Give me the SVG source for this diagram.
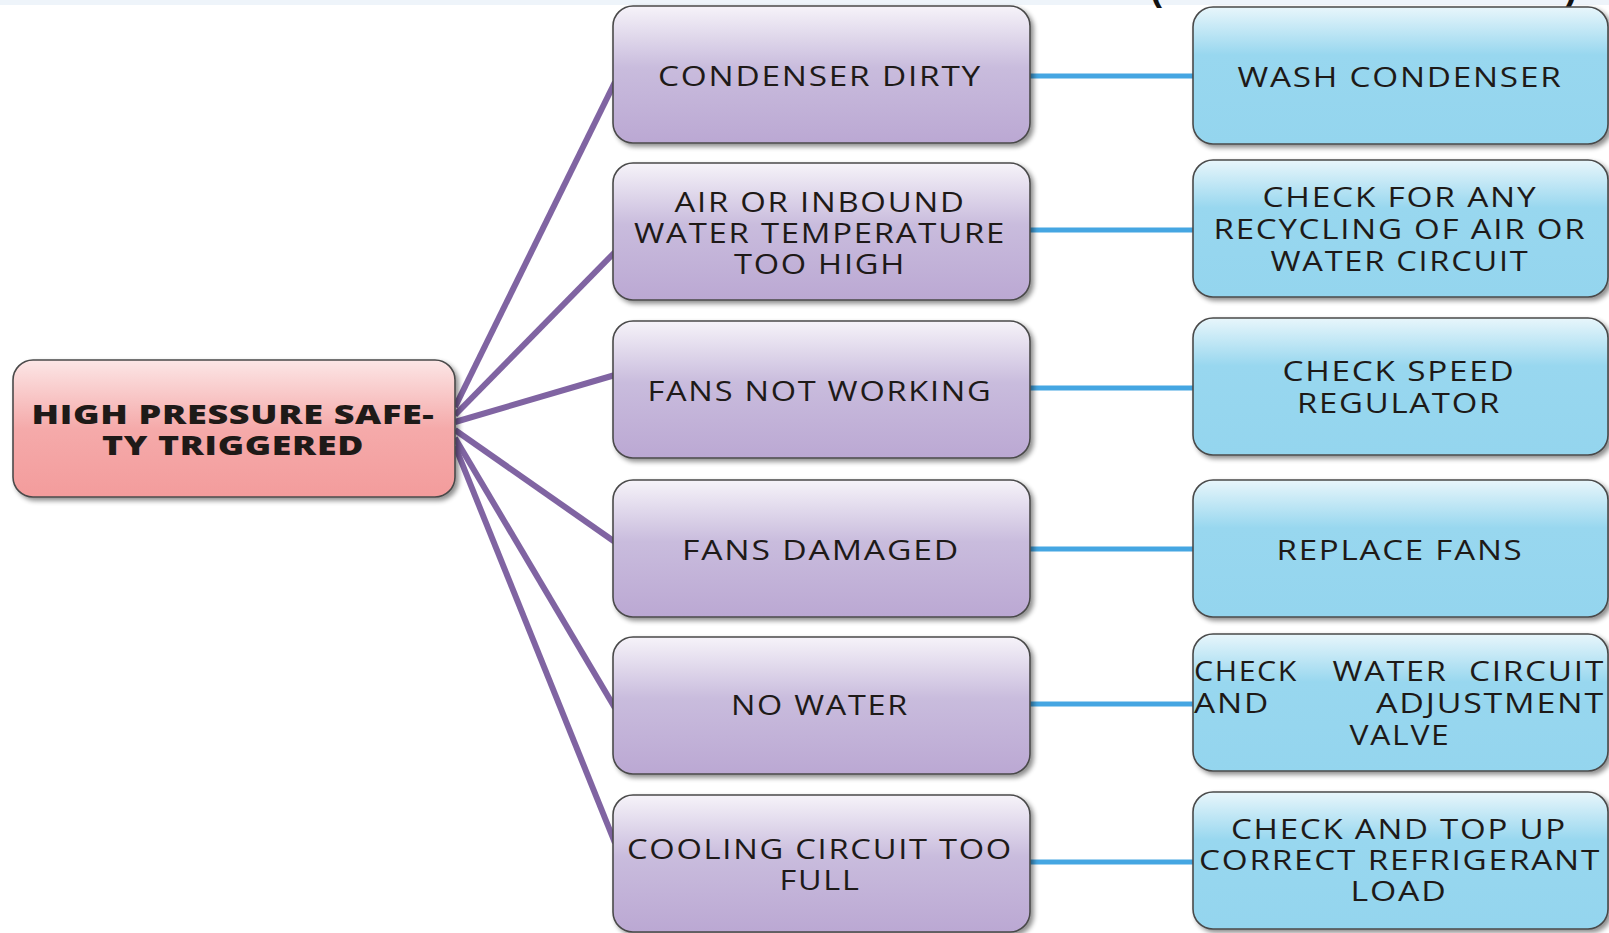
<svg xmlns="http://www.w3.org/2000/svg" width="1609" height="933" viewBox="0 0 1609 933">
  <defs>
    <linearGradient id="gCause" x1="0" y1="0" x2="0" y2="1">
      <stop offset="0" stop-color="#f6f3f9"/>
      <stop offset="0.45" stop-color="#c9bcdd"/>
      <stop offset="1" stop-color="#bba8d3"/>
    </linearGradient>
    <linearGradient id="gFix" x1="0" y1="0" x2="0" y2="1">
      <stop offset="0" stop-color="#e8f6fb"/>
      <stop offset="0.35" stop-color="#98d7ef"/>
      <stop offset="1" stop-color="#94d5ee"/>
    </linearGradient>
    <linearGradient id="gRoot" x1="0" y1="0" x2="0" y2="1">
      <stop offset="0" stop-color="#fce6e6"/>
      <stop offset="0.5" stop-color="#f5aaaa"/>
      <stop offset="1" stop-color="#f39c9c"/>
    </linearGradient>
    <filter id="shadow" x="-5%" y="-5%" width="112%" height="115%">
      <feGaussianBlur in="SourceAlpha" stdDeviation="2.5"/>
      <feOffset dx="3" dy="3" result="blur"/>
      <feComponentTransfer><feFuncA type="linear" slope="0.45"/></feComponentTransfer>
      <feMerge><feMergeNode/><feMergeNode in="SourceGraphic"/></feMerge>
    </filter>
  </defs>
  <style>
    .box { stroke: #4a4a4a; stroke-width: 1.6; filter: url(#shadow); }
    .cause { fill: url(#gCause); }
    .fix { fill: url(#gFix); }
    .root { fill: url(#gRoot); }
    .t { font-family: "Open Sans", "Liberation Sans", sans-serif; font-size: 28px; font-weight: 500; fill: #1e1a18; text-anchor: middle; letter-spacing: 1.5px; }
    .b { font-weight: 800; font-size: 27px; letter-spacing: 0.5px; }
    .t.s { text-anchor: start; }
    .t.e { text-anchor: end; }
    .toCause { stroke: #8064a2; stroke-width: 6; fill: none; }
    .toFix { stroke: #45a6e2; stroke-width: 5; fill: none; }
  </style>

  <!-- page header strip with the lower edge of a heading above -->
  <rect x="0" y="0" width="1609" height="5" fill="#eef4fa"/>
  <text x="1150" y="0" font-family="Liberation Sans, sans-serif" font-weight="700" font-size="36" fill="#111">(</text>
  <text x="1565" y="0" font-family="Liberation Sans, sans-serif" font-weight="700" font-size="36" fill="#111">)</text>

  <g id="connectors">
    <path class="toCause" d="M455,407 L615,82"/>
    <path class="toCause" d="M455,415 L615,252"/>
    <path class="toCause" d="M455,422 L615,375"/>
    <path class="toCause" d="M455,430 L615,542"/>
    <path class="toCause" d="M455,438 L615,708"/>
    <path class="toCause" d="M455,446 L615,843"/>
    <path class="toFix" d="M1030,76 H1193"/>
    <path class="toFix" d="M1030,230 H1193"/>
    <path class="toFix" d="M1030,388 H1193"/>
    <path class="toFix" d="M1030,549 H1193"/>
    <path class="toFix" d="M1030,704 H1193"/>
    <path class="toFix" d="M1030,862 H1193"/>
  </g>

  <g id="root">
    <rect class="box root" x="13" y="360" width="442" height="137" rx="20"/>
    <text class="t b" x="233" y="424" textLength="403" lengthAdjust="spacingAndGlyphs">HIGH PRESSURE SAFE-</text>
    <text class="t b" x="233" y="455" textLength="262" lengthAdjust="spacingAndGlyphs">TY TRIGGERED</text>
  </g>

  <g id="cause1">
    <rect class="box cause" x="613" y="6" width="417" height="137" rx="20"/>
    <text class="t" x="820" y="86" textLength="324" lengthAdjust="spacingAndGlyphs">CONDENSER DIRTY</text>
  </g>
  <g id="cause2">
    <rect class="box cause" x="613" y="163" width="417" height="137" rx="20"/>
    <text class="t" x="820" y="212" textLength="291" lengthAdjust="spacingAndGlyphs">AIR OR INBOUND</text>
    <text class="t" x="820" y="243" textLength="372" lengthAdjust="spacingAndGlyphs">WATER TEMPERATURE</text>
    <text class="t" x="820" y="274" textLength="172" lengthAdjust="spacingAndGlyphs">TOO HIGH</text>
  </g>
  <g id="cause3">
    <rect class="box cause" x="613" y="321" width="417" height="137" rx="20"/>
    <text class="t" x="820" y="401" textLength="345" lengthAdjust="spacingAndGlyphs">FANS NOT WORKING</text>
  </g>
  <g id="cause4">
    <rect class="box cause" x="613" y="480" width="417" height="137" rx="20"/>
    <text class="t" x="821" y="560" textLength="278" lengthAdjust="spacingAndGlyphs">FANS DAMAGED</text>
  </g>
  <g id="cause5">
    <rect class="box cause" x="613" y="637" width="417" height="137" rx="20"/>
    <text class="t" x="820" y="715" textLength="178" lengthAdjust="spacingAndGlyphs">NO WATER</text>
  </g>
  <g id="cause6">
    <rect class="box cause" x="613" y="795" width="417" height="137" rx="20"/>
    <text class="t" x="820" y="859" textLength="386" lengthAdjust="spacingAndGlyphs">COOLING CIRCUIT TOO</text>
    <text class="t" x="820" y="890" textLength="81" lengthAdjust="spacingAndGlyphs">FULL</text>
  </g>

  <g id="fix1">
    <rect class="box fix" x="1193" y="7" width="415" height="137" rx="20"/>
    <text class="t" x="1400" y="87" textLength="325" lengthAdjust="spacingAndGlyphs">WASH CONDENSER</text>
  </g>
  <g id="fix2">
    <rect class="box fix" x="1193" y="160" width="415" height="137" rx="20"/>
    <text class="t" x="1400" y="207" textLength="275" lengthAdjust="spacingAndGlyphs">CHECK FOR ANY</text>
    <text class="t" x="1400" y="239" textLength="373" lengthAdjust="spacingAndGlyphs">RECYCLING OF AIR OR</text>
    <text class="t" x="1400" y="271" textLength="259" lengthAdjust="spacingAndGlyphs">WATER CIRCUIT</text>
  </g>
  <g id="fix3">
    <rect class="box fix" x="1193" y="318" width="415" height="137" rx="20"/>
    <text class="t" x="1399" y="381" textLength="233" lengthAdjust="spacingAndGlyphs">CHECK SPEED</text>
    <text class="t" x="1399" y="413" textLength="204" lengthAdjust="spacingAndGlyphs">REGULATOR</text>
  </g>
  <g id="fix4">
    <rect class="box fix" x="1193" y="480" width="415" height="137" rx="20"/>
    <text class="t" x="1400" y="560" textLength="247" lengthAdjust="spacingAndGlyphs">REPLACE FANS</text>
  </g>
  <g id="fix5">
    <rect class="box fix" x="1193" y="634" width="415" height="137" rx="20"/>
    <text class="t s" x="1194" y="681" textLength="104" lengthAdjust="spacingAndGlyphs">CHECK</text>
    <text class="t" x="1390" y="681" textLength="115" lengthAdjust="spacingAndGlyphs">WATER</text>
    <text class="t e" x="1605" y="681" textLength="136" lengthAdjust="spacingAndGlyphs">CIRCUIT</text>
    <text class="t s" x="1194" y="713" textLength="76" lengthAdjust="spacingAndGlyphs">AND</text>
    <text class="t e" x="1605" y="713" textLength="229" lengthAdjust="spacingAndGlyphs">ADJUSTMENT</text>
    <text class="t" x="1400" y="745" textLength="101" lengthAdjust="spacingAndGlyphs">VALVE</text>
  </g>
  <g id="fix6">
    <rect class="box fix" x="1193" y="792" width="415" height="137" rx="20"/>
    <text class="t" x="1399" y="839" textLength="336" lengthAdjust="spacingAndGlyphs">CHECK AND TOP UP</text>
    <text class="t" x="1400" y="870" textLength="402" lengthAdjust="spacingAndGlyphs">CORRECT REFRIGERANT</text>
    <text class="t" x="1399" y="901" textLength="97" lengthAdjust="spacingAndGlyphs">LOAD</text>
  </g>
</svg>
